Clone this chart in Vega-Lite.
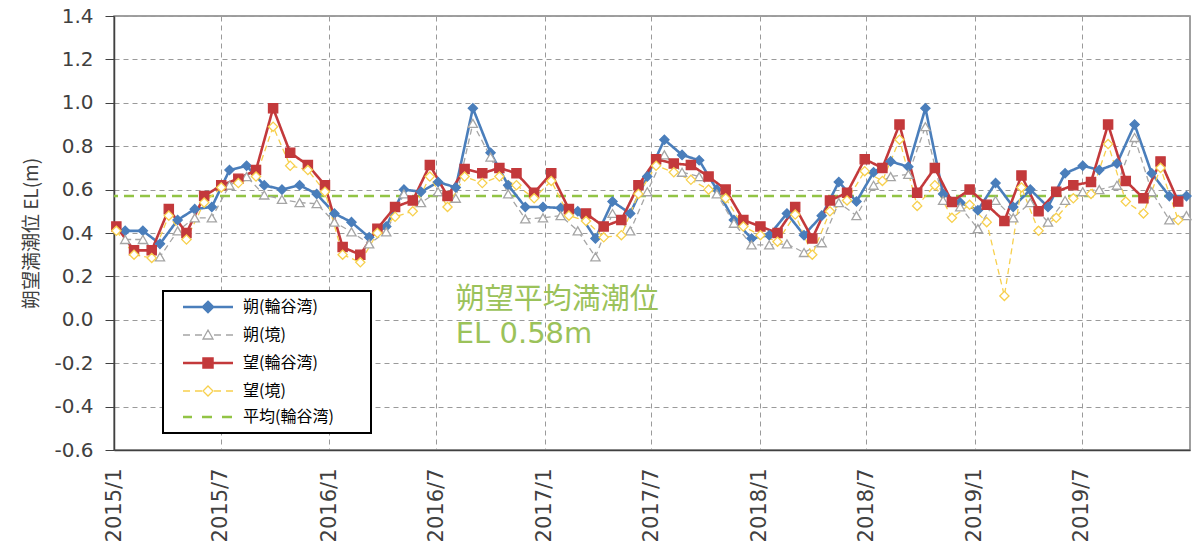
{
"$schema":"https://vega.github.io/schema/vega-lite/v6.json",
"width":1076,"height":434,
"autosize":{"type":"none"},
"padding":{"left":114,"top":16,"right":2,"bottom":106},
"background":"white",
"config":{"view":{"stroke":"#808080","strokeWidth":1.5},"font":"DejaVu Sans"},
"layer":[
{"data":{"values":[{}]},"mark":{"type":"rule","strokeDash":[10,6],"strokeWidth":2.5},
 "encoding":{"y":{"datum":0.57,"type":"quantitative"},"color":{"datum":"平均(輪谷湾)","type":"nominal"}}},
{"data":{"values":[
{"series":"朔(輪谷湾)","date":"2015-01-20","value":0.41},{"series":"朔(輪谷湾)","date":"2015-02-19","value":0.41},{"series":"朔(輪谷湾)","date":"2015-03-20","value":0.35},{"series":"朔(輪谷湾)","date":"2015-04-19","value":0.46},{"series":"朔(輪谷湾)","date":"2015-05-18","value":0.51},{"series":"朔(輪谷湾)","date":"2015-06-16","value":0.52},{"series":"朔(輪谷湾)","date":"2015-07-16","value":0.69},{"series":"朔(輪谷湾)","date":"2015-08-14","value":0.71},{"series":"朔(輪谷湾)","date":"2015-09-13","value":0.62},{"series":"朔(輪谷湾)","date":"2015-10-13","value":0.60},{"series":"朔(輪谷湾)","date":"2015-11-12","value":0.62},{"series":"朔(輪谷湾)","date":"2015-12-11","value":0.58},
{"series":"朔(輪谷湾)","date":"2016-01-10","value":0.49},{"series":"朔(輪谷湾)","date":"2016-02-08","value":0.45},{"series":"朔(輪谷湾)","date":"2016-03-09","value":0.38},{"series":"朔(輪谷湾)","date":"2016-04-07","value":0.43},{"series":"朔(輪谷湾)","date":"2016-05-07","value":0.60},{"series":"朔(輪谷湾)","date":"2016-06-05","value":0.59},{"series":"朔(輪谷湾)","date":"2016-07-04","value":0.635},{"series":"朔(輪谷湾)","date":"2016-08-03","value":0.61},{"series":"朔(輪谷湾)","date":"2016-09-01","value":0.975},{"series":"朔(輪谷湾)","date":"2016-10-01","value":0.77},{"series":"朔(輪谷湾)","date":"2016-10-31","value":0.62},{"series":"朔(輪谷湾)","date":"2016-11-29","value":0.52},{"series":"朔(輪谷湾)","date":"2016-12-29","value":0.52},
{"series":"朔(輪谷湾)","date":"2017-01-28","value":0.515},{"series":"朔(輪谷湾)","date":"2017-02-26","value":0.50},{"series":"朔(輪谷湾)","date":"2017-03-28","value":0.375},{"series":"朔(輪谷湾)","date":"2017-04-26","value":0.545},{"series":"朔(輪谷湾)","date":"2017-05-26","value":0.49},{"series":"朔(輪谷湾)","date":"2017-06-24","value":0.66},{"series":"朔(輪谷湾)","date":"2017-07-23","value":0.83},{"series":"朔(輪谷湾)","date":"2017-08-22","value":0.76},{"series":"朔(輪谷湾)","date":"2017-09-20","value":0.735},{"series":"朔(輪谷湾)","date":"2017-10-20","value":0.60},{"series":"朔(輪谷湾)","date":"2017-11-18","value":0.46},{"series":"朔(輪谷湾)","date":"2017-12-18","value":0.375},
{"series":"朔(輪谷湾)","date":"2018-01-17","value":0.39},{"series":"朔(輪谷湾)","date":"2018-02-16","value":0.49},{"series":"朔(輪谷湾)","date":"2018-03-17","value":0.39},{"series":"朔(輪谷湾)","date":"2018-04-16","value":0.48},{"series":"朔(輪谷湾)","date":"2018-05-15","value":0.635},{"series":"朔(輪谷湾)","date":"2018-06-14","value":0.545},{"series":"朔(輪谷湾)","date":"2018-07-13","value":0.68},{"series":"朔(輪谷湾)","date":"2018-08-11","value":0.73},{"series":"朔(輪谷湾)","date":"2018-09-10","value":0.705},{"series":"朔(輪谷湾)","date":"2018-10-09","value":0.975},{"series":"朔(輪谷湾)","date":"2018-11-08","value":0.58},{"series":"朔(輪谷湾)","date":"2018-12-07","value":0.54},
{"series":"朔(輪谷湾)","date":"2019-01-06","value":0.505},{"series":"朔(輪谷湾)","date":"2019-02-05","value":0.63},{"series":"朔(輪谷湾)","date":"2019-03-07","value":0.52},{"series":"朔(輪谷湾)","date":"2019-04-05","value":0.60},{"series":"朔(輪谷湾)","date":"2019-05-05","value":0.52},{"series":"朔(輪谷湾)","date":"2019-06-03","value":0.675},{"series":"朔(輪谷湾)","date":"2019-07-03","value":0.71},{"series":"朔(輪谷湾)","date":"2019-07-31","value":0.69},{"series":"朔(輪谷湾)","date":"2019-08-30","value":0.72},{"series":"朔(輪谷湾)","date":"2019-09-29","value":0.90},{"series":"朔(輪谷湾)","date":"2019-10-28","value":0.675},{"series":"朔(輪谷湾)","date":"2019-11-27","value":0.57},{"series":"朔(輪谷湾)","date":"2019-12-26","value":0.57},
{"series":"朔(境)","date":"2015-01-20","value":0.37},{"series":"朔(境)","date":"2015-02-19","value":0.37},{"series":"朔(境)","date":"2015-03-20","value":0.29},{"series":"朔(境)","date":"2015-04-19","value":0.41},{"series":"朔(境)","date":"2015-05-18","value":0.47},{"series":"朔(境)","date":"2015-06-16","value":0.47},{"series":"朔(境)","date":"2015-07-16","value":0.62},{"series":"朔(境)","date":"2015-08-14","value":0.66},{"series":"朔(境)","date":"2015-09-13","value":0.575},{"series":"朔(境)","date":"2015-10-13","value":0.555},{"series":"朔(境)","date":"2015-11-12","value":0.54},{"series":"朔(境)","date":"2015-12-11","value":0.535},
{"series":"朔(境)","date":"2016-01-10","value":0.45},{"series":"朔(境)","date":"2016-02-08","value":0.405},{"series":"朔(境)","date":"2016-03-09","value":0.35},{"series":"朔(境)","date":"2016-04-07","value":0.405},{"series":"朔(境)","date":"2016-05-07","value":0.58},{"series":"朔(境)","date":"2016-06-05","value":0.54},{"series":"朔(境)","date":"2016-07-04","value":0.59},{"series":"朔(境)","date":"2016-08-03","value":0.56},{"series":"朔(境)","date":"2016-09-01","value":0.905},{"series":"朔(境)","date":"2016-10-01","value":0.75},{"series":"朔(境)","date":"2016-10-31","value":0.58},{"series":"朔(境)","date":"2016-11-29","value":0.465},{"series":"朔(境)","date":"2016-12-29","value":0.47},
{"series":"朔(境)","date":"2017-01-28","value":0.48},{"series":"朔(境)","date":"2017-02-26","value":0.41},{"series":"朔(境)","date":"2017-03-28","value":0.29},{"series":"朔(境)","date":"2017-04-26","value":0.49},{"series":"朔(境)","date":"2017-05-26","value":0.41},{"series":"朔(境)","date":"2017-06-24","value":0.59},{"series":"朔(境)","date":"2017-07-23","value":0.76},{"series":"朔(境)","date":"2017-08-22","value":0.68},{"series":"朔(境)","date":"2017-09-20","value":0.66},{"series":"朔(境)","date":"2017-10-20","value":0.58},{"series":"朔(境)","date":"2017-11-18","value":0.445},{"series":"朔(境)","date":"2017-12-18","value":0.345},
{"series":"朔(境)","date":"2018-01-17","value":0.345},{"series":"朔(境)","date":"2018-02-16","value":0.35},{"series":"朔(境)","date":"2018-03-17","value":0.31},{"series":"朔(境)","date":"2018-04-16","value":0.355},{"series":"朔(境)","date":"2018-05-15","value":0.54},{"series":"朔(境)","date":"2018-06-14","value":0.48},{"series":"朔(境)","date":"2018-07-13","value":0.62},{"series":"朔(境)","date":"2018-08-11","value":0.66},{"series":"朔(境)","date":"2018-09-10","value":0.67},{"series":"朔(境)","date":"2018-10-09","value":0.89},{"series":"朔(境)","date":"2018-11-08","value":0.55},{"series":"朔(境)","date":"2018-12-07","value":0.52},
{"series":"朔(境)","date":"2019-01-06","value":0.42},{"series":"朔(境)","date":"2019-02-05","value":0.55},{"series":"朔(境)","date":"2019-03-07","value":0.47},{"series":"朔(境)","date":"2019-04-05","value":0.54},{"series":"朔(境)","date":"2019-05-05","value":0.45},{"series":"朔(境)","date":"2019-06-03","value":0.55},{"series":"朔(境)","date":"2019-07-03","value":0.59},{"series":"朔(境)","date":"2019-07-31","value":0.60},{"series":"朔(境)","date":"2019-08-30","value":0.62},{"series":"朔(境)","date":"2019-09-29","value":0.84},{"series":"朔(境)","date":"2019-10-28","value":0.59},{"series":"朔(境)","date":"2019-11-27","value":0.46},{"series":"朔(境)","date":"2019-12-26","value":0.48},
{"series":"望(輪谷湾)","date":"2015-01-05","value":0.43},{"series":"望(輪谷湾)","date":"2015-02-04","value":0.32},{"series":"望(輪谷湾)","date":"2015-03-06","value":0.32},{"series":"望(輪谷湾)","date":"2015-04-04","value":0.51},{"series":"望(輪谷湾)","date":"2015-05-04","value":0.40},{"series":"望(輪谷湾)","date":"2015-06-03","value":0.57},{"series":"望(輪谷湾)","date":"2015-07-02","value":0.62},{"series":"望(輪谷湾)","date":"2015-07-31","value":0.65},{"series":"望(輪谷湾)","date":"2015-08-30","value":0.69},{"series":"望(輪谷湾)","date":"2015-09-28","value":0.975},{"series":"望(輪谷湾)","date":"2015-10-27","value":0.77},{"series":"望(輪谷湾)","date":"2015-11-26","value":0.713},{"series":"望(輪谷湾)","date":"2015-12-25","value":0.62},
{"series":"望(輪谷湾)","date":"2016-01-24","value":0.335},{"series":"望(輪谷湾)","date":"2016-02-23","value":0.30},{"series":"望(輪谷湾)","date":"2016-03-23","value":0.42},{"series":"望(輪谷湾)","date":"2016-04-22","value":0.52},{"series":"望(輪谷湾)","date":"2016-05-22","value":0.55},{"series":"望(輪谷湾)","date":"2016-06-20","value":0.713},{"series":"望(輪谷湾)","date":"2016-07-20","value":0.57},{"series":"望(輪谷湾)","date":"2016-08-18","value":0.695},{"series":"望(輪谷湾)","date":"2016-09-17","value":0.675},{"series":"望(輪谷湾)","date":"2016-10-16","value":0.70},{"series":"望(輪谷湾)","date":"2016-11-14","value":0.675},{"series":"望(輪谷湾)","date":"2016-12-14","value":0.585},
{"series":"望(輪谷湾)","date":"2017-01-12","value":0.675},{"series":"望(輪谷湾)","date":"2017-02-11","value":0.51},{"series":"望(輪谷湾)","date":"2017-03-12","value":0.49},{"series":"望(輪谷湾)","date":"2017-04-11","value":0.43},{"series":"望(輪谷湾)","date":"2017-05-11","value":0.46},{"series":"望(輪谷湾)","date":"2017-06-09","value":0.62},{"series":"望(輪谷湾)","date":"2017-07-09","value":0.74},{"series":"望(輪谷湾)","date":"2017-08-08","value":0.72},{"series":"望(輪谷湾)","date":"2017-09-06","value":0.713},{"series":"望(輪谷湾)","date":"2017-10-06","value":0.66},{"series":"望(輪谷湾)","date":"2017-11-04","value":0.60},{"series":"望(輪谷湾)","date":"2017-12-04","value":0.46},
{"series":"望(輪谷湾)","date":"2018-01-02","value":0.43},{"series":"望(輪谷湾)","date":"2018-01-31","value":0.40},{"series":"望(輪谷湾)","date":"2018-03-02","value":0.52},{"series":"望(輪谷湾)","date":"2018-03-31","value":0.375},{"series":"望(輪谷湾)","date":"2018-04-30","value":0.55},{"series":"望(輪谷湾)","date":"2018-05-29","value":0.585},{"series":"望(輪谷湾)","date":"2018-06-28","value":0.74},{"series":"望(輪谷湾)","date":"2018-07-28","value":0.70},{"series":"望(輪谷湾)","date":"2018-08-26","value":0.90},{"series":"望(輪谷湾)","date":"2018-09-25","value":0.585},{"series":"望(輪谷湾)","date":"2018-10-25","value":0.70},{"series":"望(輪谷湾)","date":"2018-11-23","value":0.543},{"series":"望(輪谷湾)","date":"2018-12-23","value":0.60},
{"series":"望(輪谷湾)","date":"2019-01-21","value":0.53},{"series":"望(輪谷湾)","date":"2019-02-20","value":0.455},{"series":"望(輪谷湾)","date":"2019-03-21","value":0.665},{"series":"望(輪谷湾)","date":"2019-04-19","value":0.50},{"series":"望(輪谷湾)","date":"2019-05-19","value":0.59},{"series":"望(輪谷湾)","date":"2019-06-17","value":0.62},{"series":"望(輪谷湾)","date":"2019-07-17","value":0.635},{"series":"望(輪谷湾)","date":"2019-08-15","value":0.90},{"series":"望(輪谷湾)","date":"2019-09-14","value":0.64},{"series":"望(輪谷湾)","date":"2019-10-14","value":0.56},{"series":"望(輪谷湾)","date":"2019-11-12","value":0.73},{"series":"望(輪谷湾)","date":"2019-12-12","value":0.545},
{"series":"望(境)","date":"2015-01-05","value":0.41},{"series":"望(境)","date":"2015-02-04","value":0.30},{"series":"望(境)","date":"2015-03-06","value":0.285},{"series":"望(境)","date":"2015-04-04","value":0.48},{"series":"望(境)","date":"2015-05-04","value":0.37},{"series":"望(境)","date":"2015-06-03","value":0.54},{"series":"望(境)","date":"2015-07-02","value":0.61},{"series":"望(境)","date":"2015-07-31","value":0.63},{"series":"望(境)","date":"2015-08-30","value":0.66},{"series":"望(境)","date":"2015-09-28","value":0.89},{"series":"望(境)","date":"2015-10-27","value":0.71},{"series":"望(境)","date":"2015-11-26","value":0.69},{"series":"望(境)","date":"2015-12-25","value":0.59},
{"series":"望(境)","date":"2016-01-24","value":0.30},{"series":"望(境)","date":"2016-02-23","value":0.265},{"series":"望(境)","date":"2016-03-23","value":0.40},{"series":"望(境)","date":"2016-04-22","value":0.475},{"series":"望(境)","date":"2016-05-22","value":0.50},{"series":"望(境)","date":"2016-06-20","value":0.66},{"series":"望(境)","date":"2016-07-20","value":0.52},{"series":"望(境)","date":"2016-08-18","value":0.66},{"series":"望(境)","date":"2016-09-17","value":0.63},{"series":"望(境)","date":"2016-10-16","value":0.66},{"series":"望(境)","date":"2016-11-14","value":0.62},{"series":"望(境)","date":"2016-12-14","value":0.56},
{"series":"望(境)","date":"2017-01-12","value":0.64},{"series":"望(境)","date":"2017-02-11","value":0.48},{"series":"望(境)","date":"2017-03-12","value":0.455},{"series":"望(境)","date":"2017-04-11","value":0.38},{"series":"望(境)","date":"2017-05-11","value":0.39},{"series":"望(境)","date":"2017-06-09","value":0.58},{"series":"望(境)","date":"2017-07-09","value":0.71},{"series":"望(境)","date":"2017-08-08","value":0.68},{"series":"望(境)","date":"2017-09-06","value":0.645},{"series":"望(境)","date":"2017-10-06","value":0.60},{"series":"望(境)","date":"2017-11-04","value":0.56},{"series":"望(境)","date":"2017-12-04","value":0.43},
{"series":"望(境)","date":"2018-01-02","value":0.39},{"series":"望(境)","date":"2018-01-31","value":0.36},{"series":"望(境)","date":"2018-03-02","value":0.485},{"series":"望(境)","date":"2018-03-31","value":0.30},{"series":"望(境)","date":"2018-04-30","value":0.50},{"series":"望(境)","date":"2018-05-29","value":0.55},{"series":"望(境)","date":"2018-06-28","value":0.685},{"series":"望(境)","date":"2018-07-28","value":0.64},{"series":"望(境)","date":"2018-08-26","value":0.83},{"series":"望(境)","date":"2018-09-25","value":0.525},{"series":"望(境)","date":"2018-10-25","value":0.62},{"series":"望(境)","date":"2018-11-23","value":0.47},{"series":"望(境)","date":"2018-12-23","value":0.53},
{"series":"望(境)","date":"2019-01-21","value":0.45},{"series":"望(境)","date":"2019-02-20","value":0.11},{"series":"望(境)","date":"2019-03-21","value":0.61},{"series":"望(境)","date":"2019-04-19","value":0.41},{"series":"望(境)","date":"2019-05-19","value":0.47},{"series":"望(境)","date":"2019-06-17","value":0.56},{"series":"望(境)","date":"2019-07-17","value":0.58},{"series":"望(境)","date":"2019-08-15","value":0.81},{"series":"望(境)","date":"2019-09-14","value":0.545},{"series":"望(境)","date":"2019-10-14","value":0.49},{"series":"望(境)","date":"2019-11-12","value":0.70},{"series":"望(境)","date":"2019-12-12","value":0.46}
]},
"layer":[
{"mark":{"type":"line","strokeJoin":"round"},
 "encoding":{
  "x":{"field":"date","type":"temporal","scale":{"type":"utc","domain":[{"year":2015,"month":1,"date":1,"utc":true},{"year":2020,"month":1,"date":1,"utc":true}]},
   "axis":{"title":null,"values":[{"year":2015,"month":1,"date":1,"utc":true},{"year":2015,"month":7,"date":1,"utc":true},{"year":2016,"month":1,"date":1,"utc":true},{"year":2016,"month":7,"date":1,"utc":true},{"year":2017,"month":1,"date":1,"utc":true},{"year":2017,"month":7,"date":1,"utc":true},{"year":2018,"month":1,"date":1,"utc":true},{"year":2018,"month":7,"date":1,"utc":true},{"year":2019,"month":1,"date":1,"utc":true},{"year":2019,"month":7,"date":1,"utc":true}],
    "labelExpr":"utcFormat(datum.value, '%Y/') + (utcmonth(datum.value)+1)","labelAngle":-90,"labelFontSize":21,"labelFont":"DejaVu Sans","labelColor":"#404040","labelPadding":18,"tickSize":0,
    "grid":true,"gridDash":[5,4],"gridColor":"#9a9a9a","gridWidth":1,"domainColor":"#404040","domainWidth":1.5,"labelOverlap":false}},
  "y":{"field":"value","type":"quantitative","scale":{"domain":[-0.6,1.4],"nice":false,"zero":false},
   "axis":{"title":"朔望満潮位 EL(m)","titleFont":"Noto Sans CJK JP","titleFontSize":19,"titleFontWeight":"normal","titleColor":"#404040","titlePadding":12,
    "values":[-0.6,-0.4,-0.2,0,0.2,0.4,0.6,0.8,1.0,1.2,1.4],"labelExpr":"replace(format(datum.value,'.1f'),'\u2212','-')","labelFontSize":20,"labelFont":"DejaVu Sans","labelColor":"#404040","labelPadding":12,"tickSize":9,"tickColor":"#404040",
    "grid":true,"gridDash":[5,4],"gridColor":"#9a9a9a","gridWidth":1,"domainColor":"#404040","domainWidth":1.5}},
  "color":{"field":"series","type":"nominal","scale":{"domain":["朔(輪谷湾)","朔(境)","望(輪谷湾)","望(境)","平均(輪谷湾)"],"range":["#4a7ebb","#a5a5a5","#c3393b","#f7d04d","#92c445"]},
   "legend":{"orient":"none","legendX":49,"legendY":275,"title":null,"padding":8,"rowPadding":10,"symbolSize":100,"symbolOffset":29,"labelOffset":27,
    "labelFont":"Noto Sans CJK JP","labelFontSize":16,"labelColor":"#000000","strokeColor":"#000000","fillColor":"#ffffff",
    "encode":{
     "legend":{"update":{"strokeWidth":{"value":2}}},
     "symbols":{"update":{
      "shape":{"signal":"datum.value==='朔(輪谷湾)' ? 'M-7,0M30,0M-5,0H5M0,-1L1,0L0,1L-1,0Z' : datum.value==='朔(境)' ? 'M-7,0M30,0M-5,0H-3.6M-2.6,0H-1.2M1.2,0H2.6M3.6,0H5M0,-1L1,0.8L-1,0.8Z' : datum.value==='望(輪谷湾)' ? 'M-7,0M30,0M-5,0H5M-0.9,-0.9H0.9V0.9H-0.9Z' : datum.value==='望(境)' ? 'M-7,0M30,0M-5,0H-3.6M-2.6,0H-1.2M1.2,0H2.6M3.6,0H5M0,-1L1,0L0,1L-1,0Z' : 'M-7,0M30,0M-5,0H-3.2M-1.2,0H0.8M2.8,0H4.8'"},
      "fill":{"signal":"datum.value==='朔(輪谷湾)' ? '#4a7ebb' : datum.value==='望(輪谷湾)' ? '#c3393b' : datum.value==='平均(輪谷湾)' ? 'transparent' : '#ffffff'"},
      "stroke":{"signal":"datum.value==='朔(輪谷湾)' ? '#4a7ebb' : datum.value==='朔(境)' ? '#a5a5a5' : datum.value==='望(輪谷湾)' ? '#c3393b' : datum.value==='望(境)' ? '#f7d04d' : '#92c445'"},
      "strokeWidth":{"signal":"(datum.value==='朔(境)' || datum.value==='望(境)') ? 1.3 : 2.5"},
      "opacity":{"value":1}}}}}},
  "strokeDash":{"field":"series","type":"nominal","scale":{"domain":["朔(輪谷湾)","朔(境)","望(輪谷湾)","望(境)"],"range":[[1,0],[6,4],[1,0],[6,4]]},"legend":null},
  "strokeWidth":{"field":"series","type":"nominal","scale":{"type":"ordinal","domain":["朔(輪谷湾)","朔(境)","望(輪谷湾)","望(境)"],"range":[2.6,1.3,2.6,1.3]},"legend":null}
 }},
{"mark":{"type":"point","filled":true,"size":85,"opacity":1,"strokeWidth":1.3},
 "encoding":{
  "x":{"field":"date","type":"temporal"},
  "y":{"field":"value","type":"quantitative"},
  "shape":{"field":"series","type":"nominal","scale":{"domain":["朔(輪谷湾)","朔(境)","望(輪谷湾)","望(境)"],"range":["diamond","triangle-up","square","diamond"]},"legend":null},
  "fill":{"field":"series","type":"nominal","scale":{"domain":["朔(輪谷湾)","朔(境)","望(輪谷湾)","望(境)"],"range":["#4a7ebb","#ffffff","#c3393b","#ffffff"]},"legend":null},
  "stroke":{"field":"series","type":"nominal","scale":{"domain":["朔(輪谷湾)","朔(境)","望(輪谷湾)","望(境)"],"range":["#4a7ebb","#a5a5a5","#c3393b","#f7d04d"]},"legend":null}
 }}
]},
{"data":{"values":[{}]},"mark":{"type":"text","align":"left","baseline":"middle","font":"Noto Sans CJK JP","fontSize":29,"color":"#9bc25a"},
 "encoding":{"x":{"datum":{"year":2016,"month":8,"date":3,"utc":true},"type":"temporal"},"y":{"datum":0.09,"type":"quantitative"},"text":{"value":"朔望平均満潮位"}}},
{"data":{"values":[{}]},"mark":{"type":"text","align":"left","baseline":"middle","font":"DejaVu Sans","fontSize":29,"color":"#9bc25a"},
 "encoding":{"x":{"datum":{"year":2016,"month":8,"date":3,"utc":true},"type":"temporal"},"y":{"datum":-0.065,"type":"quantitative"},"text":{"value":"EL 0.58m"}}}
]
}
